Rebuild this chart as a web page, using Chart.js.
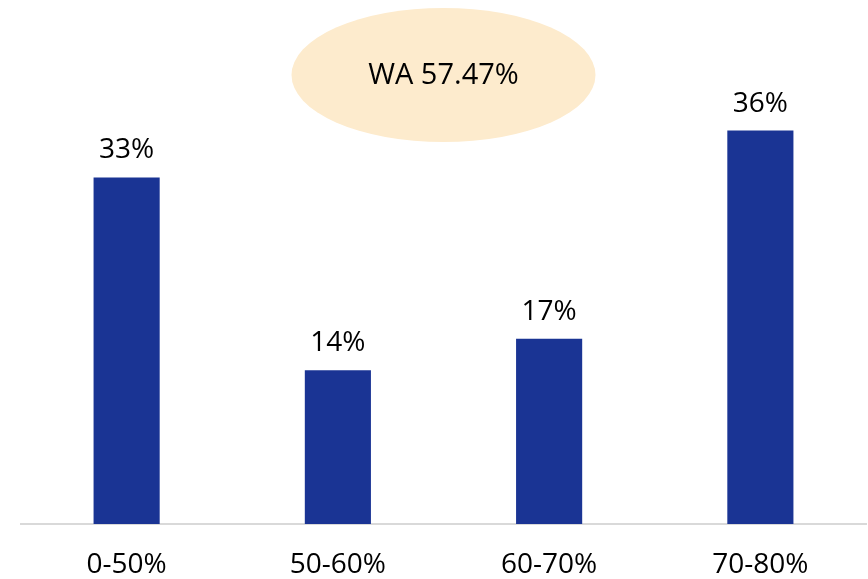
<!DOCTYPE html>
<html>
<head>
<meta charset="utf-8">
<script src="https://cdn.jsdelivr.net/npm/chart.js@4.4.1/dist/chart.umd.min.js"></script>
<style>
  html, body { margin: 0; padding: 0; background: #fff; }
  #wrap { width: 868px; height: 579px; }
</style>
</head>
<body>
<div id="wrap"><canvas id="ltvChart" width="868" height="579"></canvas></div>
<script>
const categories = ["0-50%", "50-60%", "60-70%", "70-80%"];
const shares = [31.8, 14.1, 17.0, 36.1];
const shareLabels = ["33%", "14%", "17%", "36%"];
const waLabel = "WA 57.47%";

const FONT = "'Open Sans', 'Noto Sans', sans-serif";

// labels above bars + the WA bubble
const extras = {
  id: "extras",
  afterDatasetsDraw(chart) {
    const ctx = chart.ctx;
    const meta = chart.getDatasetMeta(0);
    const xs = chart.scales.x;

    // ellipse between 2nd and 3rd bar
    const cx = (xs.getPixelForValue(1) + xs.getPixelForValue(2)) / 2;
    const cy = 75;
    ctx.save();
    ctx.fillStyle = "#fdebcd";
    ctx.beginPath();
    ctx.ellipse(cx, cy, 152, 67, 0, 0, Math.PI * 2);
    ctx.fill();
    ctx.fillStyle = "#000";
    ctx.font = "29px " + FONT;
    ctx.textAlign = "center";
    ctx.textBaseline = "middle";
    ctx.fillText(waLabel, cx, cy + 1);

    ctx.font = "28px " + FONT;
    ctx.textBaseline = "alphabetic";
    meta.data.forEach((bar, i) => {
      ctx.fillText(shareLabels[i], bar.x, bar.y - 19);
    });
    ctx.restore();
  },
};

const ctx = document.getElementById("ltvChart").getContext("2d");
const myChart = new Chart(ctx, {
  type: "bar",
  data: {
    labels: categories,
    datasets: [
      {
        data: shares,
        backgroundColor: "#1a3494",
        borderWidth: 0,
        categoryPercentage: 1,
        barPercentage: 0.313,
      },
    ],
  },
  options: {
    responsive: false,
    animation: false,
    layout: {
      padding: { top: 88, left: 21, right: 2, bottom: 0 },
    },
    plugins: {
      legend: { display: false },
      tooltip: { enabled: false },
    },
    scales: {
      x: {
        grid: { display: false, drawTicks: false },
        border: { display: true, color: "#d9d9d9", width: 2 },
        ticks: {
          color: "#000",
          font: { family: FONT, size: 28 },
          padding: 24,
        },
        afterFit: (scale) => {
          scale.height = 55;
        },
      },
      y: {
        display: false,
        min: 0,
        max: 40,
      },
    },
  },
  plugins: [extras],
});
</script>
</body>
</html>
